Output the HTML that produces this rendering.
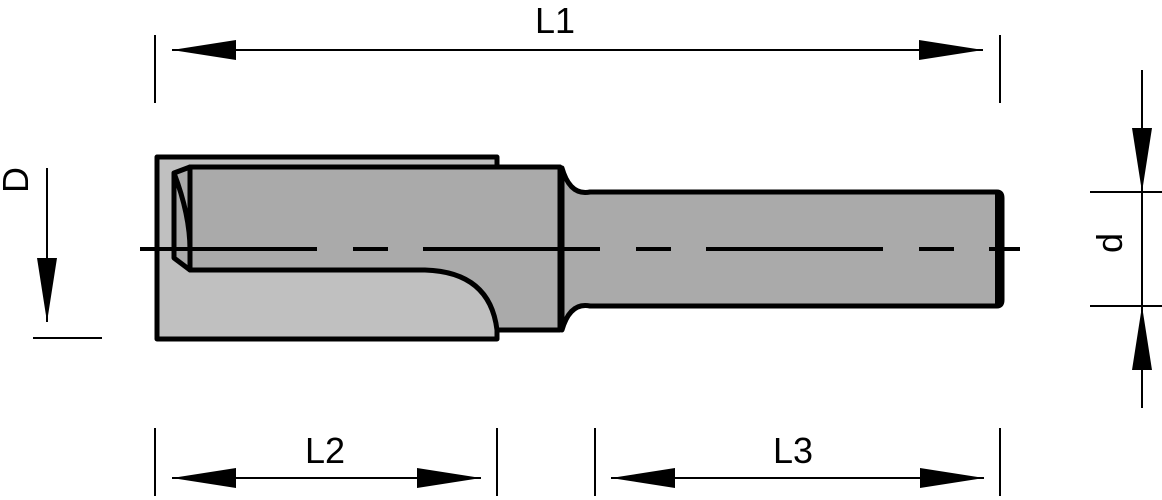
<!DOCTYPE html>
<html><head><style>body{margin:0;background:#fff}svg{display:block}</style></head><body>
<svg width="1162" height="500" viewBox="0 0 1162 500" xmlns="http://www.w3.org/2000/svg">
<defs>
<marker id="a" viewBox="0 0 64 20" refX="64" refY="10" markerWidth="64" markerHeight="20" markerUnits="userSpaceOnUse" orient="auto-start-reverse"><path d="M0,0 L64,10 L0,20 Z" fill="#000"/></marker>
</defs>
<g stroke="#000" stroke-width="2" fill="none">
<line x1="155" y1="35" x2="155" y2="103"/><line x1="1000" y1="35" x2="1000" y2="103"/>
<line x1="172" y1="50" x2="983" y2="50" marker-start="url(#a)" marker-end="url(#a)"/>
<line x1="155" y1="428" x2="155" y2="496"/><line x1="497" y1="428" x2="497" y2="496"/>
<line x1="172" y1="478" x2="481" y2="478" marker-start="url(#a)" marker-end="url(#a)"/>
<line x1="595" y1="428" x2="595" y2="496"/><line x1="1000" y1="428" x2="1000" y2="496"/>
<line x1="611" y1="478" x2="984" y2="478" marker-start="url(#a)" marker-end="url(#a)"/>
<line x1="47" y1="168" x2="47" y2="322" marker-end="url(#a)"/>
<line x1="33" y1="338" x2="102" y2="338"/>
<line x1="1142" y1="70" x2="1142" y2="192" marker-end="url(#a)"/>
<line x1="1142" y1="408" x2="1142" y2="306" marker-end="url(#a)"/>
<line x1="1142" y1="192" x2="1142" y2="306"/>
<line x1="1090" y1="192" x2="1162" y2="192"/><line x1="1090" y1="306" x2="1162" y2="306"/>
</g>
<g stroke="#000" stroke-width="5" stroke-linejoin="round">
<path d="M590,192 L997,192 Q1002,192 1002,198 L1002,300 Q1002,306 997,306 L590,306 Q570,302 562,330 L562,168 Q570,196 590,192 Z" fill="#aaa"/>
<rect x="157" y="157" width="340" height="182" fill="#c0c0c0"/>
<path d="M190,167 L560,167 L560,330 L497,330 Q490,272 425,270 L190,270 Z" fill="#aaa"/>
<path d="M174,173 L190,167 L190,270 L174,258 Z" fill="#aaa"/>
<path d="M174,173 Q190,215 190,250" fill="none"/>
<path d="M999,194 L999,304" stroke-width="8"/>
</g>
<line x1="140" y1="249" x2="1020" y2="249" stroke="#000" stroke-width="4" stroke-dasharray="177 36 35 35"/>
<g font-family="Liberation Sans, sans-serif" font-size="36" fill="#000" text-anchor="middle">
<text x="555" y="33">L1</text>
<text x="325" y="463">L2</text>
<text x="793" y="463">L3</text>
<text transform="translate(28,180) rotate(-90)">D</text>
<text transform="translate(1122,243) rotate(-90)">d</text>
</g>
</svg>
</body></html>
